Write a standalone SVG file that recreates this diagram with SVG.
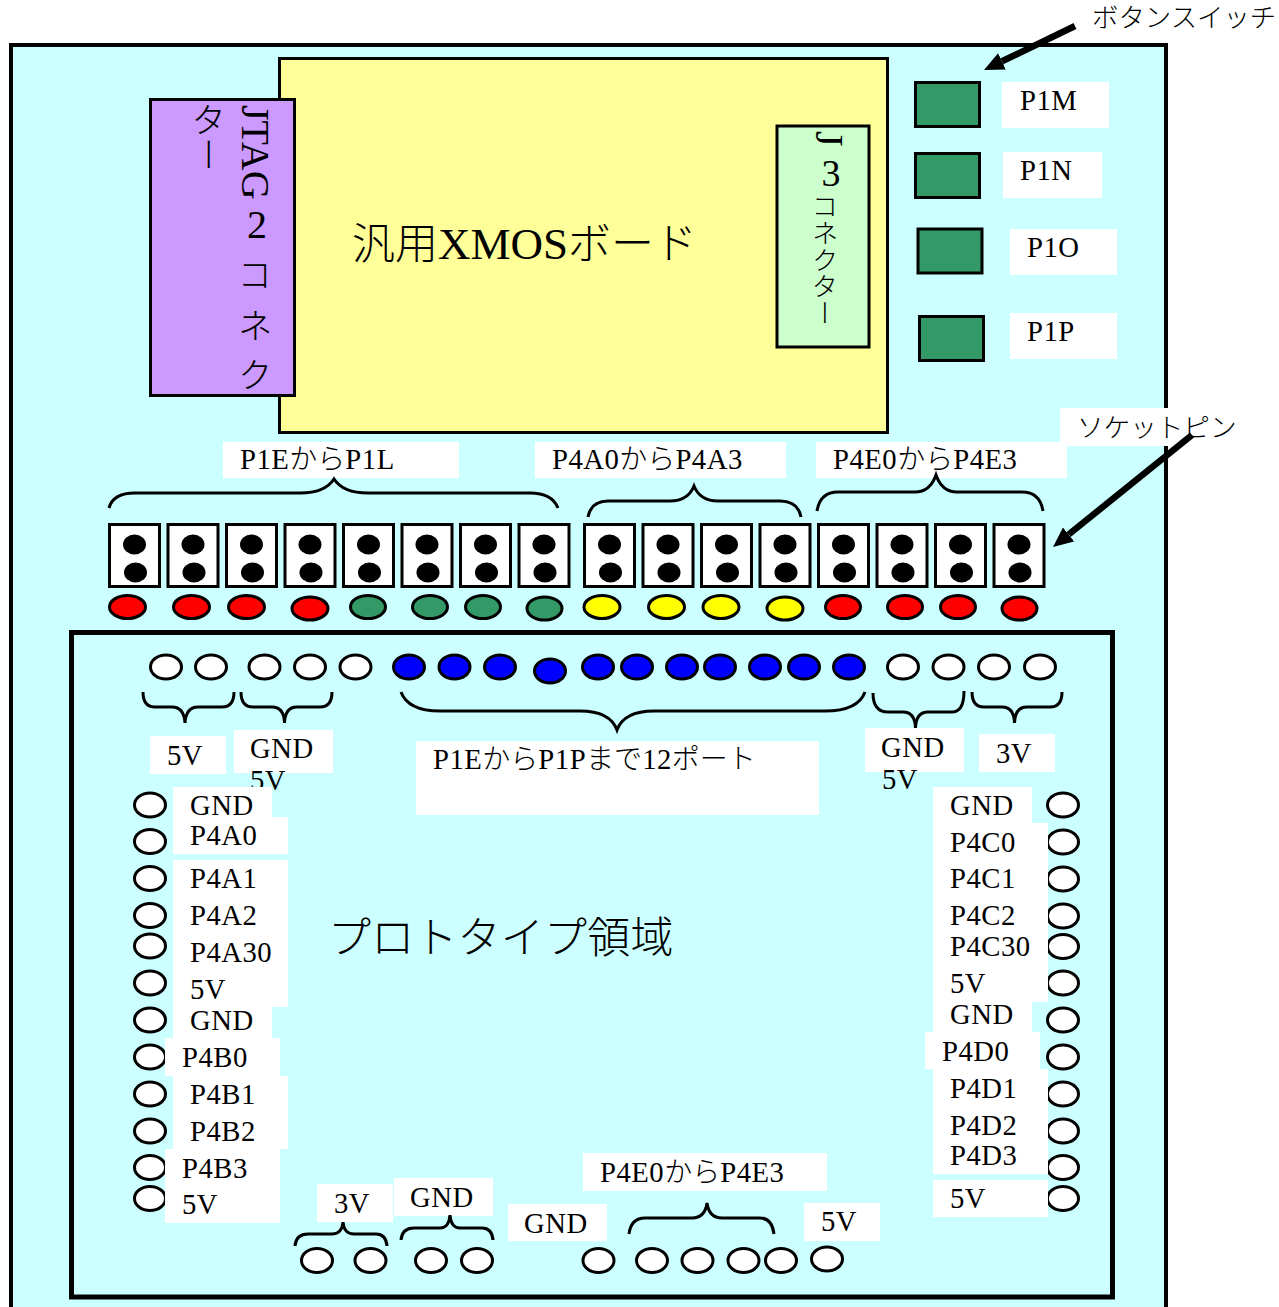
<svg xmlns="http://www.w3.org/2000/svg" width="1279" height="1307" viewBox="0 0 1279 1307">
<style>
text{font-family:"Liberation Serif","Noto Sans CJK JP",serif;font-size:28.7px;fill:#000;white-space:pre;letter-spacing:.5px}
.j{font-family:"Noto Sans CJK JP","Liberation Serif",sans-serif;font-size:26.6px;font-weight:300;letter-spacing:0}
text tspan.j{font-size:28px}
.big{font-size:45px;letter-spacing:0}
text .bigj,.bigj{font-family:"Noto Sans CJK JP","Liberation Serif",sans-serif;font-size:43px;font-weight:300;letter-spacing:0}
.v{writing-mode:vertical-rl;letter-spacing:0}
.u{text-orientation:upright}
.box{stroke:#000;stroke-width:3}
.lb{fill:#fff}
.pin{fill:#fff;stroke:#000;stroke-width:3}
.sock{fill:#fff;stroke:#000;stroke-width:3}
.dot{fill:#000}
.w{fill:#fff;stroke:#000;stroke-width:3}
.r{fill:#f00;stroke:#000;stroke-width:3}
.g{fill:#396;stroke:#000;stroke-width:3}
.y{fill:#ff0;stroke:#000;stroke-width:3}
.b{fill:#00f;stroke:#000;stroke-width:3}
.brace{fill:none;stroke:#000;stroke-width:3}
.arrow{fill:none;stroke:#000;stroke-width:6.5}
</style>
<defs>
<marker id="ah" markerUnits="userSpaceOnUse" markerWidth="20" markerHeight="18" viewBox="0 0 20 18" refX="0" refY="9" orient="auto"><path d="M0 0L20 9L0 18Z" fill="#000"/></marker>
<g id="sk"><rect class="sock" x="1" y="0" width="50" height="62"/><ellipse class="dot" cx="26" cy="20" rx="11.5" ry="10"/><ellipse class="dot" cx="27" cy="48" rx="11.5" ry="10"/></g>
</defs>
<rect width="1279" height="1307" fill="#fff"/>
<g id="board"><rect x="11" y="45" width="1155" height="1290" fill="#cff" stroke="#000" stroke-width="4"/></g>
<g id="xmos-board"><rect class="box" x="279.5" y="58.5" width="608" height="374" fill="#ff9"/>
<text x="352" y="259"><tspan class="bigj">汎用</tspan><tspan class="big">XMOS</tspan><tspan class="bigj">ボード</tspan></text></g>
<g id="jtag"><rect class="box" x="150.500" y="99.500" width="144" height="296" fill="#c9f"/>
<text class="v" x="255" y="105" style="font-size:40px">JTAG</text>
<text class="v u" x="257" y="202" style="font-size:40px">2</text>
<text class="v j" x="255" y="257" style="font-size:35px">コ</text>
<text class="v j" x="255" y="308" style="font-size:35px">ネ</text>
<text class="v j" x="255" y="357" style="font-size:35px">ク</text>
<text class="v j" x="209" y="102" style="font-size:35px">ター</text></g>
<g id="j3"><rect class="box" x="777" y="126" width="92" height="221" fill="#cfc"/>
<text class="v" x="829" y="131" style="font-size:40px">J</text>
<text class="v u" x="831" y="152" style="font-size:38px">3</text>
<text class="v j" x="825" y="193">コネクター</text></g>
<g id="btn-p1m"><rect class="g" x="915.500" y="82.500" width="64" height="44"/><rect class="lb" x="1002" y="82" width="107" height="46"/><text x="1020" y="110">P1M</text></g>
<g id="btn-p1n"><rect class="g" x="915.500" y="153.500" width="64" height="44"/><rect class="lb" x="1003" y="152" width="99" height="46"/><text x="1020" y="180">P1N</text></g>
<g id="btn-p1o"><rect class="g" x="918" y="229" width="64" height="44"/><rect class="lb" x="1010" y="229" width="107" height="46"/><text x="1027" y="257">P1O</text></g>
<g id="btn-p1p"><rect class="g" x="919.500" y="316.500" width="64" height="44"/><rect class="lb" x="1010" y="313" width="107" height="46"/><text x="1027" y="341">P1P</text></g>
<g id="button-label"><text class="j" x="1092" y="27" style="font-size:26.4px">ボタンスイッチ</text></g>
<g id="socket-label"><rect class="lb" x="1060" y="408" width="180" height="38"/><text class="j" x="1077" y="437">ソケットピン</text></g>
<g id="label-p1e"><rect class="lb" x="223" y="442" width="236" height="36"/><text x="240" y="469">P1E<tspan class="j">から</tspan>P1L</text></g>
<g id="label-p4a"><rect class="lb" x="535" y="442" width="251" height="36"/><text x="552" y="469">P4A0<tspan class="j">から</tspan>P4A3</text></g>
<g id="label-p4e"><rect class="lb" x="816" y="442" width="251" height="36"/><text x="833" y="469">P4E0<tspan class="j">から</tspan>P4E3</text></g>
<g id="sockets">
<use href="#sk" x="108.500" y="524.500"/><use href="#sk" x="167" y="524.500"/><use href="#sk" x="225.500" y="524.500"/><use href="#sk" x="284" y="524.500"/><use href="#sk" x="342.500" y="524.500"/><use href="#sk" x="401" y="524.500"/><use href="#sk" x="459.500" y="524.500"/><use href="#sk" x="518" y="524.500"/><use href="#sk" x="583.500" y="524.500"/><use href="#sk" x="642" y="524.500"/><use href="#sk" x="700.500" y="524.500"/><use href="#sk" x="759" y="524.500"/><use href="#sk" x="817.500" y="524.500"/><use href="#sk" x="876" y="524.500"/><use href="#sk" x="934.500" y="524.500"/><use href="#sk" x="993" y="524.500"/>
</g>
<g id="leds">
<ellipse class="r" cx="127.500" cy="607" rx="18" ry="11.500"/><ellipse class="r" cx="191.500" cy="607" rx="18" ry="11.500"/><ellipse class="r" cx="246.500" cy="607" rx="18" ry="11.500"/><ellipse class="r" cx="310" cy="608.500" rx="18" ry="11.500"/>
<ellipse class="g" cx="368" cy="607" rx="17.500" ry="11.500"/><ellipse class="g" cx="430" cy="607" rx="17.500" ry="11.500"/><ellipse class="g" cx="483" cy="607" rx="17.500" ry="11.500"/><ellipse class="g" cx="544.500" cy="608.500" rx="17.500" ry="11.500"/>
<ellipse class="y" cx="602" cy="607" rx="18" ry="11.500"/><ellipse class="y" cx="666.500" cy="607" rx="18" ry="11.500"/><ellipse class="y" cx="721" cy="607" rx="18" ry="11.500"/><ellipse class="y" cx="785" cy="608.500" rx="18" ry="11.500"/>
<ellipse class="r" cx="843" cy="607" rx="17.500" ry="11.500"/><ellipse class="r" cx="905" cy="607" rx="17.500" ry="11.500"/><ellipse class="r" cx="958" cy="607" rx="17.500" ry="11.500"/><ellipse class="r" cx="1019.500" cy="608.500" rx="17.500" ry="11.500"/>
</g>
<g id="proto-area"><rect x="71.500" y="632.500" width="1041" height="664.500" fill="#cff" stroke="#000" stroke-width="5"/>
<text class="bigj" x="328" y="953" style="letter-spacing:.2px">プロトタイプ領域</text></g>
<g id="top-pins">
<ellipse class="w" cx="166" cy="667" rx="15.500" ry="12"/><ellipse class="w" cx="211" cy="667" rx="15.500" ry="12"/><ellipse class="w" cx="264.500" cy="667" rx="15.500" ry="12"/><ellipse class="w" cx="310" cy="667" rx="15.500" ry="12"/><ellipse class="w" cx="355.500" cy="667" rx="15.500" ry="12"/>
<ellipse class="b" cx="409" cy="667" rx="15.500" ry="12"/><ellipse class="b" cx="454.500" cy="667" rx="15.500" ry="12"/><ellipse class="b" cx="500" cy="667" rx="15.500" ry="12"/><ellipse class="b" cx="550" cy="671" rx="15.500" ry="12"/><ellipse class="b" cx="598" cy="667" rx="15.500" ry="12"/><ellipse class="b" cx="637" cy="667" rx="15.500" ry="12"/><ellipse class="b" cx="682" cy="667" rx="15.500" ry="12"/><ellipse class="b" cx="720" cy="667" rx="15.500" ry="12"/><ellipse class="b" cx="765" cy="667" rx="15.500" ry="12"/><ellipse class="b" cx="804" cy="667" rx="15.500" ry="12"/><ellipse class="b" cx="849" cy="667" rx="15.500" ry="12"/>
<ellipse class="w" cx="903" cy="667" rx="15.500" ry="12"/><ellipse class="w" cx="948.500" cy="667" rx="15.500" ry="12"/><ellipse class="w" cx="994" cy="667" rx="15.500" ry="12"/><ellipse class="w" cx="1040" cy="667" rx="15.500" ry="12"/>
</g>
<g id="left-pins">
<ellipse class="pin" cx="150" cy="805" rx="15.500" ry="12"/><ellipse class="pin" cx="150" cy="841.500" rx="15.500" ry="12"/><ellipse class="pin" cx="150" cy="878.500" rx="15.500" ry="12"/><ellipse class="pin" cx="150" cy="915.500" rx="15.500" ry="12"/><ellipse class="pin" cx="150" cy="946" rx="15.500" ry="12"/><ellipse class="pin" cx="150" cy="983" rx="15.500" ry="12"/><ellipse class="pin" cx="150" cy="1020" rx="15.500" ry="12"/><ellipse class="pin" cx="150" cy="1057" rx="15.500" ry="12"/><ellipse class="pin" cx="150" cy="1094" rx="15.500" ry="12"/><ellipse class="pin" cx="150" cy="1131" rx="15.500" ry="12"/><ellipse class="pin" cx="150" cy="1167.500" rx="15.500" ry="12"/><ellipse class="pin" cx="150" cy="1198.500" rx="15.500" ry="12"/>
</g>
<g id="right-pins">
<ellipse class="pin" cx="1063" cy="805" rx="15.500" ry="12"/><ellipse class="pin" cx="1063" cy="842" rx="15.500" ry="12"/><ellipse class="pin" cx="1063" cy="879" rx="15.500" ry="12"/><ellipse class="pin" cx="1063" cy="916" rx="15.500" ry="12"/><ellipse class="pin" cx="1063" cy="946.500" rx="15.500" ry="12"/><ellipse class="pin" cx="1063" cy="983" rx="15.500" ry="12"/><ellipse class="pin" cx="1063" cy="1020" rx="15.500" ry="12"/><ellipse class="pin" cx="1063" cy="1057" rx="15.500" ry="12"/><ellipse class="pin" cx="1063" cy="1094" rx="15.500" ry="12"/><ellipse class="pin" cx="1063" cy="1131" rx="15.500" ry="12"/><ellipse class="pin" cx="1063" cy="1167.500" rx="15.500" ry="12"/><ellipse class="pin" cx="1063" cy="1198.500" rx="15.500" ry="12"/>
</g>
<g id="bottom-pins">
<ellipse class="pin" cx="317" cy="1260.500" rx="15.500" ry="12"/><ellipse class="pin" cx="370.500" cy="1260.500" rx="15.500" ry="12"/><ellipse class="pin" cx="431" cy="1260.500" rx="15.500" ry="12"/><ellipse class="pin" cx="477" cy="1260.500" rx="15.500" ry="12"/><ellipse class="pin" cx="598.500" cy="1260.500" rx="15.500" ry="12"/><ellipse class="pin" cx="652" cy="1260.500" rx="15.500" ry="12"/><ellipse class="pin" cx="697.500" cy="1260.500" rx="15.500" ry="12"/><ellipse class="pin" cx="743.500" cy="1260.500" rx="15.500" ry="12"/><ellipse class="pin" cx="781" cy="1260.500" rx="15.500" ry="12"/><ellipse class="pin" cx="827" cy="1259" rx="15.500" ry="12"/>
</g>
<g id="label-top-5v"><rect class="lb" x="150" y="736" width="76" height="38"/><text x="167" y="765">5V</text></g>
<g id="label-top-gnd"><rect class="lb" x="234" y="730" width="99" height="43"/><text x="250" y="758">GND</text><text x="250" y="790">5V</text></g>
<g id="label-12port"><rect class="lb" x="416" y="741" width="403" height="74"/><text x="433" y="769">P1E<tspan class="j">から</tspan>P1P<tspan class="j">まで</tspan>12<tspan class="j">ポート</tspan></text></g>
<g id="label-top-gnd2"><rect class="lb" x="865" y="728" width="99" height="44"/><text x="881" y="757">GND</text><text x="882" y="789">5V</text></g>
<g id="label-top-3v"><rect class="lb" x="979" y="734" width="76" height="38"/><text x="996" y="763">3V</text></g>
<g id="left-labels">
<rect class="lb" x="173" y="787" width="99" height="30"/><rect class="lb" x="173" y="817" width="115" height="37"/><rect class="lb" x="173" y="860" width="115" height="147"/><rect class="lb" x="173" y="1007" width="99" height="31"/><rect class="lb" x="165" y="1038" width="115" height="38"/><rect class="lb" x="173" y="1076" width="115" height="73"/><rect class="lb" x="165" y="1149" width="115" height="74"/>
<text x="190" y="815">GND</text><text x="190" y="845">P4A0</text><text x="190" y="888">P4A1</text><text x="190" y="925">P4A2</text><text x="190" y="962">P4A30</text><text x="190" y="999">5V</text><text x="190" y="1030">GND</text><text x="182" y="1067">P4B0</text><text x="190" y="1104">P4B1</text><text x="190" y="1141">P4B2</text><text x="182" y="1178">P4B3</text><text x="182" y="1214">5V</text>
</g>
<g id="right-labels">
<rect class="lb" x="933" y="787" width="99" height="36"/><rect class="lb" x="933" y="823" width="115" height="179"/><rect class="lb" x="933" y="1002" width="99" height="30"/><rect class="lb" x="925" y="1032" width="115" height="37"/><rect class="lb" x="933" y="1069" width="115" height="105"/><rect class="lb" x="933" y="1180" width="115" height="37"/>
<text x="950" y="815">GND</text><text x="950" y="852">P4C0</text><text x="950" y="888">P4C1</text><text x="950" y="925">P4C2</text><text x="950" y="956">P4C30</text><text x="950" y="993">5V</text><text x="950" y="1024">GND</text><text x="942" y="1061">P4D0</text><text x="950" y="1098">P4D1</text><text x="950" y="1135">P4D2</text><text x="950" y="1165">P4D3</text><text x="950" y="1208">5V</text>
</g>
<g id="label-bot-3v"><rect class="lb" x="317" y="1184" width="76" height="38"/><text x="334" y="1213">3V</text></g>
<g id="label-bot-gnd"><rect class="lb" x="394" y="1178" width="99" height="38"/><text x="410" y="1207">GND</text></g>
<g id="label-bot-gnd2"><rect class="lb" x="508" y="1204" width="99" height="37"/><text x="524" y="1233">GND</text></g>
<g id="label-bot-p4e"><rect class="lb" x="583" y="1153" width="244" height="38"/><text x="600" y="1182">P4E0<tspan class="j">から</tspan>P4E3</text></g>
<g id="label-bot-5v"><rect class="lb" x="804" y="1203" width="76" height="38"/><text x="821" y="1231">5V</text></g>
<g id="connectors">
<path class="brace" d="M109 508Q113 493 135 493L300 493Q325 493 334 479Q343 493 368 493L530 493Q552 493 558 508"/>
<path class="brace" d="M588 517Q591 501 608 501L670 501Q688 501 694 486Q700 501 718 501L780 501Q798 501 801 517"/>
<path class="brace" d="M817 511Q820 492 838 492L915 492Q930 492 936 475Q942 492 957 492L1022 492Q1040 492 1043 511"/>
<path class="brace" d="M143 692Q143 707 155 707L172 707Q184 707 185 723Q186 707 198 707L222 707Q234 707 234 692"/>
<path class="brace" d="M241 692Q241 707 253 707L272 707Q284 707 284.500 723Q285 707 297 707L320 707Q332 707 332 692"/>
<path class="brace" d="M401 692Q408 711 440 711L580 711Q610 711 617 730Q624 711 654 711L825 711Q858 711 865 692"/>
<path class="brace" d="M873 693Q873 712 888 712L903 712Q915 712 915.500 728Q916 712 928 712L952 712Q964 712 964 691"/>
<path class="brace" d="M972 692Q972 707 984 707L1002 707Q1014 707 1014.500 723Q1015 707 1027 707L1050 707Q1062 707 1062 692"/>
<path class="brace" d="M295 1246Q296 1234 308 1234L332 1234Q342 1234 343 1222Q344 1234 354 1234L376 1234Q386 1234 387 1246"/>
<path class="brace" d="M401 1240Q402 1228 414 1228L440 1228Q449 1228 450 1215Q451 1228 460 1228L482 1228Q492 1228 493 1240"/>
<path class="brace" d="M629 1234Q631 1218 645 1218L692 1218Q705 1218 707 1203Q709 1218 722 1218L760 1218Q772 1218 774 1234"/>
<path class="arrow" d="M1075 26L1002 61.300" marker-end="url(#ah)"/>
<path class="arrow" d="M1192 435L1068.600 534.500" marker-end="url(#ah)"/>
</g>
</svg>
